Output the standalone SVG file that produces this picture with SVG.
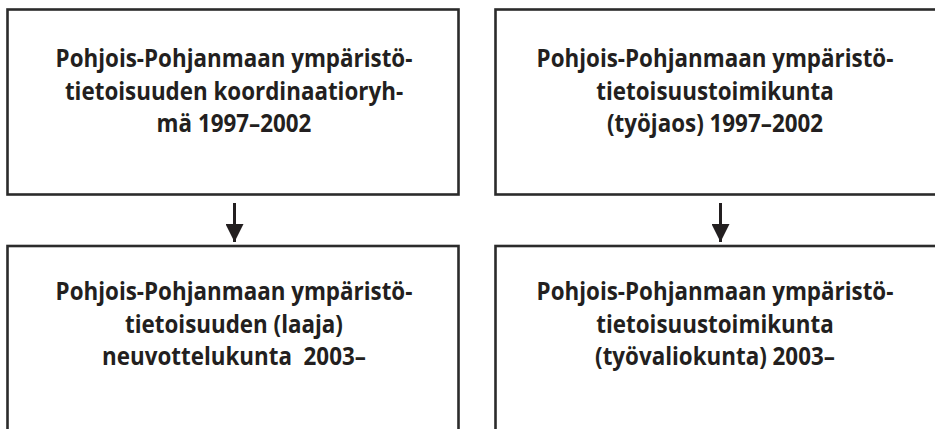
<svg xmlns="http://www.w3.org/2000/svg" width="935" height="429" viewBox="0 0 935 429">
<style>
.box{fill:#fff;stroke:#2b2b2b;stroke-width:2.6}
.t{font-family:"Open Sans","Liberation Sans",sans-serif;font-weight:bold;font-size:25px;fill:#231f20;text-anchor:middle}
.c{stroke:#231f20;stroke-width:3;fill:none}
</style>
<defs>
<marker id="ah" markerUnits="userSpaceOnUse" markerWidth="18" markerHeight="18" refX="16" refY="8" orient="auto" viewBox="0 0 16 16">
<path d="M0,0 L16,8 L0,16 Z" fill="#231f20"/>
</marker>
</defs>
<rect width="935" height="429" fill="#fff"/>
<g id="n1">
<rect class="box" x="7.5" y="9.5" width="451" height="185"/>
<g transform="translate(234,0) scale(0.895,1)">
<text class="t" x="0" y="67">Pohjois-Pohjanmaan ympäristö-</text>
<text class="t" x="0" y="100">tietoisuuden koordinaatioryh-</text>
<text class="t" x="0" y="132">mä 1997–2002</text>
</g>
</g>
<g id="n2">
<rect class="box" x="495.5" y="9.5" width="442" height="185"/>
<g transform="translate(715,0) scale(0.895,1)">
<text class="t" x="0" y="67">Pohjois-Pohjanmaan ympäristö-</text>
<text class="t" x="0" y="100">tietoisuustoimikunta</text>
<text class="t" x="0" y="132">(työjaos) 1997–2002</text>
</g>
</g>
<g id="n3">
<rect class="box" x="7.5" y="246" width="451" height="200"/>
<g transform="translate(234,0) scale(0.895,1)">
<text class="t" x="0" y="300">Pohjois-Pohjanmaan ympäristö-</text>
<text class="t" x="0" y="333">tietoisuuden (laaja)</text>
<text class="t" x="0" y="365" xml:space="preserve">neuvottelukunta  2003–</text>
</g>
</g>
<g id="n4">
<rect class="box" x="495.5" y="246" width="442" height="200"/>
<g transform="translate(715,0) scale(0.895,1)">
<text class="t" x="0" y="300">Pohjois-Pohjanmaan ympäristö-</text>
<text class="t" x="0" y="333">tietoisuustoimikunta</text>
<text class="t" x="0" y="365">(työvaliokunta) 2003–</text>
</g>
</g>
<g id="connectors">
<line class="c" x1="234.5" y1="203" x2="234.5" y2="242" marker-end="url(#ah)"/>
<line class="c" x1="720.5" y1="203" x2="720.5" y2="242" marker-end="url(#ah)"/>
</g>
</svg>
